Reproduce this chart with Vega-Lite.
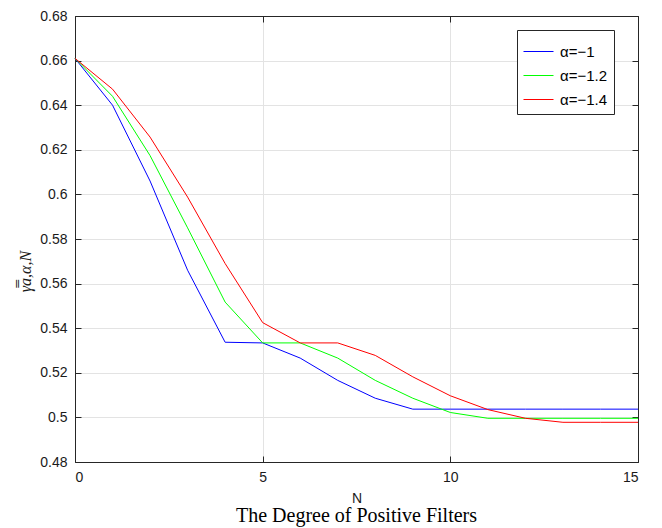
{
  "$schema": "https://vega.github.io/schema/vega-lite/v6.json",
  "width": 563,
  "height": 446,
  "autosize": {"type": "none"},
  "padding": {"left": 75, "top": 16, "right": 24, "bottom": 66},
  "background": "white",
  "config": {
    "view": {"stroke": "#262626", "strokeWidth": 1},
    "axis": {
      "labelFont": "Liberation Sans",
      "labelFontSize": 14,
      "labelColor": "#1a1a1a",
      "domainColor": "#262626",
      "tickColor": "#262626",
      "gridColor": "#e3e3e3",
      "gridOpacity": 1,
      "titleFontWeight": "normal",
      "titleColor": "#1a1a1a"
    }
  },
  "title": {
    "text": "The Degree of Positive Filters",
    "orient": "bottom",
    "font": "Liberation Serif",
    "fontSize": 20,
    "fontWeight": "normal",
    "color": "#000000",
    "offset": 1,
    "anchor": "middle"
  },
  "data": {
    "values": [
      {"N": 0, "alpha": "α=−1", "v": 0.661},
      {"N": 1, "alpha": "α=−1", "v": 0.640},
      {"N": 2, "alpha": "α=−1", "v": 0.606},
      {"N": 3, "alpha": "α=−1", "v": 0.566},
      {"N": 4, "alpha": "α=−1", "v": 0.5337},
      {"N": 5, "alpha": "α=−1", "v": 0.5334},
      {"N": 6, "alpha": "α=−1", "v": 0.5266},
      {"N": 7, "alpha": "α=−1", "v": 0.5166},
      {"N": 8, "alpha": "α=−1", "v": 0.5086},
      {"N": 9, "alpha": "α=−1", "v": 0.5037},
      {"N": 10, "alpha": "α=−1", "v": 0.5037},
      {"N": 11, "alpha": "α=−1", "v": 0.5037},
      {"N": 12, "alpha": "α=−1", "v": 0.5037},
      {"N": 13, "alpha": "α=−1", "v": 0.5037},
      {"N": 14, "alpha": "α=−1", "v": 0.5037},
      {"N": 15, "alpha": "α=−1", "v": 0.5037},
      {"N": 0, "alpha": "α=−1.2", "v": 0.661},
      {"N": 1, "alpha": "α=−1.2", "v": 0.644},
      {"N": 2, "alpha": "α=−1.2", "v": 0.6174},
      {"N": 3, "alpha": "α=−1.2", "v": 0.585},
      {"N": 4, "alpha": "α=−1.2", "v": 0.5517},
      {"N": 5, "alpha": "α=−1.2", "v": 0.5334},
      {"N": 6, "alpha": "α=−1.2", "v": 0.5334},
      {"N": 7, "alpha": "α=−1.2", "v": 0.5266},
      {"N": 8, "alpha": "α=−1.2", "v": 0.5166},
      {"N": 9, "alpha": "α=−1.2", "v": 0.5086},
      {"N": 10, "alpha": "α=−1.2", "v": 0.5022},
      {"N": 11, "alpha": "α=−1.2", "v": 0.4996},
      {"N": 12, "alpha": "α=−1.2", "v": 0.4996},
      {"N": 13, "alpha": "α=−1.2", "v": 0.4996},
      {"N": 14, "alpha": "α=−1.2", "v": 0.4996},
      {"N": 15, "alpha": "α=−1.2", "v": 0.4996},
      {"N": 0, "alpha": "α=−1.4", "v": 0.661},
      {"N": 1, "alpha": "α=−1.4", "v": 0.6472},
      {"N": 2, "alpha": "α=−1.4", "v": 0.6257},
      {"N": 3, "alpha": "α=−1.4", "v": 0.5988},
      {"N": 4, "alpha": "α=−1.4", "v": 0.569},
      {"N": 5, "alpha": "α=−1.4", "v": 0.5425},
      {"N": 6, "alpha": "α=−1.4", "v": 0.5334},
      {"N": 7, "alpha": "α=−1.4", "v": 0.5334},
      {"N": 8, "alpha": "α=−1.4", "v": 0.5278},
      {"N": 9, "alpha": "α=−1.4", "v": 0.5182},
      {"N": 10, "alpha": "α=−1.4", "v": 0.5097},
      {"N": 11, "alpha": "α=−1.4", "v": 0.5035},
      {"N": 12, "alpha": "α=−1.4", "v": 0.4996},
      {"N": 13, "alpha": "α=−1.4", "v": 0.4978},
      {"N": 14, "alpha": "α=−1.4", "v": 0.4978},
      {"N": 15, "alpha": "α=−1.4", "v": 0.4978}
    ]
  },
  "layer": [
    {
      "mark": {"type": "line", "strokeWidth": 1},
      "encoding": {
        "x": {
          "field": "N", "type": "quantitative",
          "scale": {"domain": [0, 15], "nice": false, "zero": false},
          "axis": {"values": [0, 5, 10, 15], "tickSize": -6, "labelPadding": 14, "title": "N", "titleFont": "Liberation Sans", "titleFontSize": 14, "titlePadding": 7, "domain": true}
        },
        "y": {
          "field": "v", "type": "quantitative",
          "scale": {"domain": [0.48, 0.68], "nice": false, "zero": false},
          "axis": {"values": [0.48, 0.5, 0.52, 0.54, 0.56, 0.58, 0.6, 0.62, 0.64, 0.66, 0.68], "format": ".2~f", "tickSize": -6, "labelPadding": 14, "title": "γ̿a,α,N", "titleFont": "Liberation Serif", "titleFontStyle": "italic", "titleFontSize": 16, "titlePadding": 6, "titleY": 255}
        },
        "color": {
          "field": "alpha", "type": "nominal",
          "scale": {"domain": ["α=−1", "α=−1.2", "α=−1.4"], "range": ["#0000ff", "#00ff00", "#ff0000"]},
          "legend": {
            "title": null,
            "orient": "none",
            "legendX": 442,
            "legendY": 14,
            "direction": "vertical",
            "symbolType": "stroke",
            "symbolSize": 900,
            "symbolStrokeWidth": 1,
            "labelFont": "Liberation Sans",
            "labelFontSize": 15,
            "labelColor": "#000000",
            "labelOffset": 6,
            "rowPadding": 0,
            "padding": 6,
            "strokeColor": "#262626",
            "fillColor": "white"
          }
        }
      }
    },
    {
      "mark": {"type": "line", "strokeOpacity": 0},
      "encoding": {
        "x": {"field": "N", "type": "quantitative", "axis": {"orient": "top", "values": [0, 5, 10, 15], "labels": false, "tickSize": -6, "grid": false, "title": null}},
        "y": {"field": "v", "type": "quantitative", "axis": {"orient": "right", "values": [0.48, 0.5, 0.52, 0.54, 0.56, 0.58, 0.6, 0.62, 0.64, 0.66, 0.68], "labels": false, "tickSize": -6, "grid": false, "title": null}},
        "detail": {"field": "alpha"}
      }
    }
  ],
  "resolve": {"axis": {"x": "independent", "y": "independent"}}
}
